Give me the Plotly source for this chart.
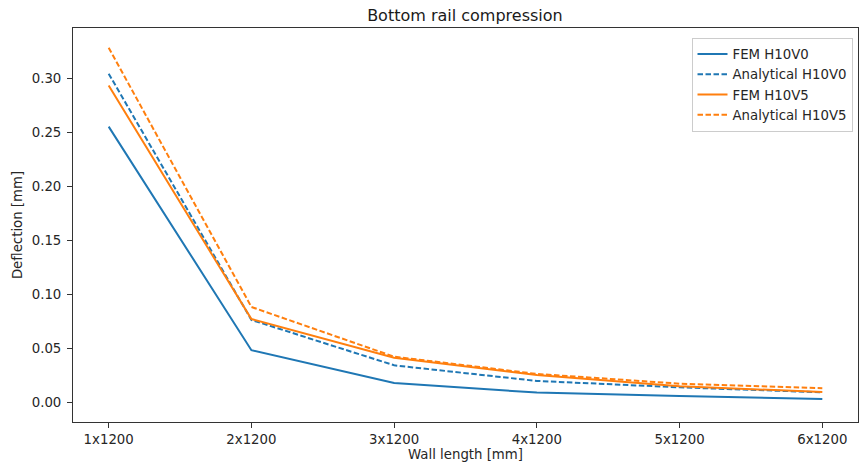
import plotly.graph_objects as go

categories = ["1x1200", "2x1200", "3x1200", "4x1200", "5x1200", "6x1200"]
fem_h10v0 = [0.255, 0.048, 0.0176, 0.0087, 0.0056, 0.0029]
ana_h10v0 = [0.304, 0.076, 0.034, 0.0195, 0.0136, 0.009]
fem_h10v5 = [0.293, 0.0768, 0.041, 0.025, 0.0145, 0.0093]
ana_h10v5 = [0.328, 0.088, 0.042, 0.026, 0.017, 0.0128]

blue = "#1f77b4"
orange = "#ff7f0e"
dash = "5.5px,2.5px"
x = list(range(len(categories)))

fig = go.Figure()
fig.add_trace(go.Scatter(x=x, y=fem_h10v0, mode="lines", name="FEM H10V0",
                         line=dict(color=blue, width=2)))
fig.add_trace(go.Scatter(x=x, y=ana_h10v0, mode="lines", name="Analytical H10V0",
                         line=dict(color=blue, width=2, dash=dash)))
fig.add_trace(go.Scatter(x=x, y=fem_h10v5, mode="lines", name="FEM H10V5",
                         line=dict(color=orange, width=2)))
fig.add_trace(go.Scatter(x=x, y=ana_h10v5, mode="lines", name="Analytical H10V5",
                         line=dict(color=orange, width=2, dash=dash)))

fs = 13.3
font = dict(family="DejaVu Sans", size=fs, color="#262626")
fig.update_layout(
    width=861, height=466,
    margin=dict(l=73, r=3, t=28, b=44),
    paper_bgcolor="white", plot_bgcolor="white",
    font=font,
    title=dict(text="Bottom rail compression", x=0.54, xanchor="center",
               y=0.968, yanchor="middle", font=dict(family="DejaVu Sans", size=16, color="#1a1a1a")),
    legend=dict(x=0.993, y=0.975, xanchor="right", yanchor="top",
                bordercolor="#cccccc", borderwidth=1, bgcolor="rgba(255,255,255,0.8)",
                font=dict(family="DejaVu Sans", size=fs, color="#262626"),
                tracegroupgap=0, itemwidth=30),
    showlegend=True,
)
fig.update_xaxes(
    range=[-0.25, 5.25], tickmode="array", tickvals=x, ticktext=categories,
    showline=True, linecolor="#333", linewidth=1, mirror=True,
    ticks="outside", ticklen=5, tickcolor="#333", showgrid=False, zeroline=False,
    title=dict(text="Wall length [mm]", standoff=3, font=dict(size=fs)),
)
fig.update_yaxes(
    range=[-0.0185, 0.3463], tickmode="array",
    tickvals=[0, 0.05, 0.10, 0.15, 0.20, 0.25, 0.30],
    ticktext=["0.00", "0.05", "0.10", "0.15", "0.20", "0.25", "0.30"],
    showline=True, linecolor="#333", linewidth=1, mirror=True,
    ticks="outside", ticklen=5, tickcolor="#333", showgrid=False, zeroline=False,
    ticklabelstandoff=3,
    title=dict(text="Deflection [mm]", standoff=6, font=dict(size=fs)),
)

fig.write_html("out.html")
